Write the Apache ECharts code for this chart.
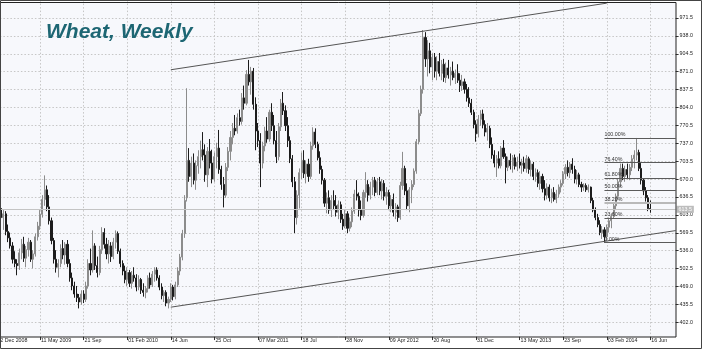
<!DOCTYPE html>
<html><head><meta charset="utf-8">
<script src="https://cdn.jsdelivr.net/npm/echarts@6/dist/echarts.min.js"></script>
<style>html,body{margin:0;padding:0;background:#fff}#c{width:702px;height:349px}</style>
</head><body><div id="c"></div>
<script>
// ---- x axis (weekly categories start 22 Dec 2008) ----
const startDate = Date.UTC(2008, 11, 22);
const categoryCount = 297;
const firstBar = 2; // category index of first weekly bar
const tickIndex = [0,19,38,57,76,95,114,133,152,171,190,209,228,247,266,285];
const tickLabels = ["22 Dec 2008","11 May 2009","21 Sep","01 Feb 2010","14 Jun","25 Oct","07 Mar 2011","18 Jul","28 Nov","09 Apr 2012","20 Aug","31 Dec","13 May 2013","23 Sep","03 Feb 2014","16 Jun"];

// ---- weekly OHLC ----
const opens = [615,598,605,572,560,545,520,512,508,532,548,522,538,552,520,530,562,582,604,632,
650,618,592,555,520,505,512,540,528,548,512,485,470,455,448,440,455,445,470,512,
500,545,508,495,538,570,548,530,545,525,552,568,535,512,498,482,495,475,490,485,
468,482,462,458,465,485,472,492,500,485,468,452,458,438,445,468,450,472,498,524,
568,635,705,675,700,668,695,712,725,715,678,722,700,670,712,728,688,660,640,692,
722,748,765,760,785,778,822,812,866,852,872,810,760,742,700,732,760,745,795,770,
742,712,768,812,798,770,742,708,665,598,640,682,705,680,698,675,732,758,735,710,
688,668,625,635,612,630,620,608,622,595,582,605,578,590,610,642,638,612,602,645,
660,640,655,668,645,665,648,662,638,645,620,632,608,618,598,658,690,648,620,650,
660,685,740,793,838,935,895,910,880,898,872,890,868,885,860,878,865,872,860,868,
855,845,852,838,822,812,795,772,755,782,792,772,758,765,735,715,700,708,695,728,
712,692,705,695,710,694,702,696,700,690,708,688,698,675,682,662,675,652,640,655,
635,645,632,642,655,662,680,692,682,698,688,670,678,660,655,658,650,655,630,612,
598,585,570,575,562,580,592,600,620,638,665,690,675,688,678,692,708,715,720,690,
668,648,635,615];
const highs = [632,612,610,585,570,552,535,520,540,558,562,545,560,556,537,568,590,612,640,677,
658,640,598,560,537,520,548,556,552,556,520,495,478,470,455,462,462,478,520,540,
574,550,525,545,580,578,560,556,552,560,574,572,540,518,508,505,500,498,505,492,
490,485,475,470,490,495,498,505,505,490,475,462,462,450,475,472,478,505,530,575,
640,840,728,712,718,705,724,742,758,735,730,745,725,720,738,762,695,674,700,730,
760,775,790,793,800,831,845,874,893,880,878,823,775,756,740,768,786,800,812,790,
760,775,820,833,808,786,750,715,674,649,690,720,724,705,708,740,767,765,740,722,
695,672,645,649,640,649,640,630,628,605,612,610,598,617,650,668,645,630,650,683,
668,665,674,674,672,674,670,668,655,650,640,643,625,622,665,721,695,662,655,668,
690,745,800,845,949,945,930,925,905,906,900,906,893,895,888,893,880,890,875,885,
868,865,858,848,842,820,800,780,790,799,800,780,775,770,748,724,715,722,732,743,
718,712,718,715,716,712,718,708,712,715,712,705,702,690,688,685,680,668,662,660,
652,655,650,660,668,685,698,705,702,709,695,687,682,665,662,662,660,656,635,617,
605,593,582,580,585,598,606,625,643,672,699,699,695,699,698,715,724,747,725,700,
672,655,640,630];
const lows = [590,575,565,552,540,512,505,490,500,520,515,505,525,515,503,525,555,575,598,620,
610,585,548,512,495,486,505,520,510,505,478,462,448,440,428,435,438,440,465,490,
495,500,486,490,530,540,520,512,515,520,540,530,505,490,475,470,468,465,478,460,
462,455,450,447,458,465,468,478,480,462,445,440,432,428,440,443,445,468,490,518,
560,628,665,655,660,650,680,690,705,665,655,690,662,665,690,680,650,617,635,685,
705,735,752,755,770,772,800,808,845,828,800,724,730,655,690,722,738,740,760,735,
700,705,760,790,760,730,700,655,569,585,615,670,672,662,665,670,725,728,705,680,
660,618,606,605,599,612,600,595,588,575,578,569,572,580,605,630,600,593,598,635,
628,632,640,638,640,640,632,630,622,612,608,600,595,590,594,650,640,612,608,625,
655,680,735,788,830,880,862,868,855,860,855,862,855,852,850,858,845,855,848,850,
833,835,830,815,805,790,765,740,748,770,765,750,742,728,708,692,674,690,690,708,
662,685,688,682,688,685,690,680,684,682,680,675,668,665,655,650,645,630,632,628,
625,628,625,635,645,658,670,675,672,680,662,660,655,646,648,646,645,625,608,593,
580,565,558,551,556,570,578,596,612,632,655,668,665,670,668,685,690,705,685,660,
640,628,610,607];
const closes = [598,605,572,560,545,520,512,508,532,548,522,538,552,520,530,562,582,604,632,650,
618,592,555,520,505,512,540,528,548,512,485,470,455,448,440,455,445,470,512,500,
545,508,495,538,570,548,530,545,525,552,568,535,512,498,482,495,475,490,485,468,
482,462,458,465,485,472,492,500,485,468,452,458,438,445,468,450,472,498,524,568,
630,705,675,700,668,695,712,725,715,678,722,700,670,712,728,688,660,640,692,722,
748,765,760,785,778,822,812,866,852,872,810,760,742,700,732,760,745,795,770,742,
712,768,812,798,770,742,708,665,598,640,682,705,680,698,675,732,758,735,710,688,
668,625,635,612,630,620,608,622,595,582,605,578,590,610,642,638,612,602,645,660,
640,655,668,645,665,648,662,638,645,620,632,608,618,598,658,690,648,620,650,660,
685,740,793,838,935,895,910,880,898,872,890,868,885,860,878,865,872,860,868,855,
845,852,838,822,812,795,772,755,782,792,772,758,765,735,715,700,708,695,728,712,
692,705,695,710,694,702,696,700,690,708,688,698,675,682,662,675,652,640,655,635,
645,632,642,655,662,680,692,682,698,688,670,678,660,655,658,650,655,630,612,598,
585,570,575,562,580,592,600,620,638,665,690,675,688,678,692,708,715,720,690,668,
648,635,615,613.5];

// ---- drawn studies ----
const upperChannel = [[76, 874.6], [266, 999.3]];
const lowerChannel = [[76, 430.3], [296, 573.6]];
const fibStart = 265, fibEnd = 296;
const fibValues = [551, 597.3, 625.9, 649, 672.1, 700.7, 747];
const fibTexts = ["0.00%", "23.60%", "38.20%", "50.00%", "61.80%", "76.40%", "100.00%"];
const lastPrice = 613.5;

// ---- y axis ----
const yMin = 368.5, yMax = 1005, yStep = 33.5;

const pad = n => (n < 10 ? '0' : '') + n;
const months = ['Jan','Feb','Mar','Apr','May','Jun','Jul','Aug','Sep','Oct','Nov','Dec'];
const categories = [];
for (let j = 0; j < categoryCount; j++) {
  const d = new Date(startDate + j * 7 * 86400000);
  categories.push(pad(d.getUTCDate()) + ' ' + months[d.getUTCMonth()] + ' ' + d.getUTCFullYear());
}
const tickSet = new Set(tickIndex);
const bars = opens.map((o, i) => [i + firstBar, o, closes[i], lows[i], highs[i]]);

const fibMarks = fibValues.map((v, k) => {
  const special = fibTexts[k] === "38.20%";
  return [
    { coord: [fibStart, v], lineStyle: { color: special ? '#b9b9b9' : '#5a5a5a', width: special ? 2.2 : 1, type: 'solid' },
      label: { show: true, formatter: fibTexts[k], position: 'insideStartTop', distance: [0, 1], fontSize: 5.3, color: '#333', fontFamily: 'Liberation Sans' } },
    { coord: [fibEnd, v] }
  ];
});

const chart = echarts.init(document.getElementById('c'), null, { renderer: 'canvas' });
chart.setOption({
  animation: false,
  backgroundColor: '#ffffff',
  title: {
    text: 'Wheat, Weekly', left: 46, top: 22, padding: 0,
    textStyle: { fontFamily: 'Liberation Sans', fontSize: 21, fontWeight: 'bold', fontStyle: 'italic', color: '#1d6673' }
  },
  grid: { left: -3.59, right: 26.4, top: 0.1, bottom: 8.8, containLabel: false, outerBoundsMode: 'none' },
  xAxis: {
    type: 'category', data: categories, boundaryGap: false, offset: -3.2,
    axisLine: { show: false },
    axisTick: { show: true, length: 3, interval: (idx) => tickSet.has(idx), lineStyle: { color: '#333' } },
    axisLabel: {
      interval: (idx) => tickSet.has(idx), align: 'left', margin: 1.5, fontSize: 5.3, color: '#222',
      fontFamily: 'Liberation Sans', padding: [0, 0, 0, 1],
      formatter: (val, idx) => { const p = tickIndex.indexOf(idx); return p >= 0 ? tickLabels[p] : ''; }
    },
    splitLine: { show: true, interval: (idx) => tickSet.has(idx), lineStyle: { color: '#c6c6c6', type: [1.5, 2], width: 1 } }
  },
  yAxis: {
    type: 'value', position: 'right', min: yMin, max: yMax, interval: yStep,
    axisLine: { show: false },
    axisTick: { show: true, length: 3, lineStyle: { color: '#333' } },
    axisLabel: { fontSize: 5.3, color: '#222', margin: 4, fontFamily: 'Liberation Sans',
      formatter: v => v.toFixed(1), showMinLabel: false, showMaxLabel: false },
    splitLine: { show: true, showMinLine: false, showMaxLine: false, lineStyle: { color: '#c6c6c6', type: [1.5, 2], width: 1 } }
  },
  series: [
    {
      type: 'candlestick', data: bars, encode: { x: 0, y: [1, 2, 3, 4] }, barWidth: 1.6,
      itemStyle: { color: '#8c8c8c', color0: '#1c1c1c', borderColor: '#8c8c8c', borderColor0: '#1c1c1c', borderWidth: 1 },
      markLine: {
        silent: true, symbol: ['none', 'none'], animation: false,
        data: [
          { yAxis: lastPrice, lineStyle: { color: '#c4c4c4', type: 'solid', width: 1 },
            label: { show: true, position: 'end', formatter: String(lastPrice), distance: 1, fontSize: 5.3,
              color: '#ffffff', backgroundColor: '#bdbdbd', padding: [1, 2], fontFamily: 'Liberation Sans' } }
        ].concat(fibMarks)
      }
    },
    { type: 'line', data: upperChannel, symbol: 'none', silent: true, lineStyle: { color: '#555', width: 1 }, z: 3 },
    { type: 'line', data: lowerChannel, symbol: 'none', silent: true, lineStyle: { color: '#555', width: 1 }, z: 3 }
  ],
  graphic: [
    { type: 'rect', z: -10, silent: true, shape: { x: 1, y: 2.5, width: 675, height: 334.5 }, style: { fill: '#f7f8fc' } },
    { type: 'rect', z: 100, silent: true, shape: { x: 0.5, y: 2.5, width: 675.5, height: 334.5 }, style: { fill: null, stroke: '#222', lineWidth: 1 } },
    { type: 'rect', z: 100, silent: true, shape: { x: 0.5, y: 0.5, width: 701, height: 348 }, style: { fill: null, stroke: '#444', lineWidth: 1 } }
  ]
});
</script></body></html>
